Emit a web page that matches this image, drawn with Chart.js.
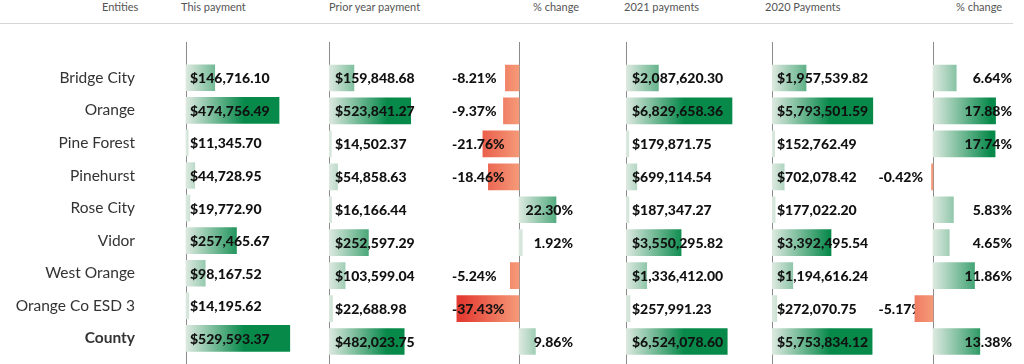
<!DOCTYPE html>
<html>
<head>
<meta charset="utf-8">
<script src="https://cdn.jsdelivr.net/npm/chart.js@4.4.1/dist/chart.umd.min.js"></script>
<style>
    body { margin: 0; background: #fff; width: 1024px; height: 364px; overflow: hidden; position: relative; font-family: Lato, sans-serif; }
    .head { position: absolute; top: 0px; font-size: 11px; color: #555; white-space: nowrap; }
    .rule { position: absolute; left: 0; top: 23px; width: 1013px; height: 1px; background: #d6d6d6; }
    canvas { position: absolute; top: 42px; }
</style>
</head>
<body>
<div class="head" style="left:102px">Entities</div>
<div class="head" style="left:181px">This payment</div>
<div class="head" style="left:329px">Prior year payment</div>
<div class="head" style="left:533px">% change</div>
<div class="head" style="left:624px">2021 payments</div>
<div class="head" style="left:765px">2020 Payments</div>
<div class="head" style="left:956px">% change</div>
<div class="rule"></div>

<canvas id="chartThis" width="329" height="322" style="left:0px"></canvas>
<canvas id="chartPrior" width="111" height="322" style="left:329px"></canvas>
<canvas id="chartPct" width="160" height="322" style="left:440px"></canvas>
<canvas id="chart2021" width="146" height="322" style="left:626px"></canvas>
<canvas id="chart2020" width="120" height="322" style="left:772px"></canvas>
<canvas id="chartPctYear" width="164" height="322" style="left:860px"></canvas>

<script>
const entities = ['Bridge City', 'Orange', 'Pine Forest', 'Pinehurst', 'Rose City', 'Vidor', 'West Orange', 'Orange Co ESD 3', 'County']
const thisPayment = [146716.10, 474756.49, 11345.70, 44728.95, 19772.90, 257465.67, 98167.52, 14195.62, 529593.37]
const priorYearPayment = [159848.68, 523841.27, 14502.37, 54858.63, 16166.44, 252597.29, 103599.04, 22688.98, 482023.75]
const pctChange = [-8.21, -9.37, -21.76, -18.46, 22.30, 1.92, -5.24, -37.43, 9.86]
const payments2021 = [2087620.30, 6829658.36, 179871.75, 699114.54, 187347.27, 3550295.82, 1336412.00, 257991.23, 6524078.60]
const payments2020 = [1957539.82, 5793501.59, 152762.49, 702078.42, 177022.20, 3392495.54, 1194616.24, 272070.75, 5753834.12]
const pctChangeYear = [6.64, 17.88, 17.74, -0.42, 5.83, 4.65, 11.86, -5.17, 13.38]

const money = v => '$' + v.toLocaleString('en-US', { minimumFractionDigits: 2, maximumFractionDigits: 2 })
const pct = v => v.toFixed(2) + '%'

function barColor(ctx) {
    const chart = ctx.chart
    if (!chart.chartArea) return '#07894a'
    const x0 = chart.scales.x.getPixelForValue(0)
    let g
    if (ctx.raw >= 0) {
        g = chart.ctx.createLinearGradient(x0, 0, x0 + 58, 0)
        g.addColorStop(0, '#dde9e0')
        g.addColorStop(1, '#07894a')
    } else {
        g = chart.ctx.createLinearGradient(x0, 0, x0 - 58, 0)
        g.addColorStop(0, '#f59a78')
        g.addColorStop(1, '#e43b32')
    }
    return g
}

// zero line, runs the full height of the canvas
const zeroLine = {
    id: 'zeroLine',
    beforeDatasetsDraw(chart) {
        const x = Math.round(chart.scales.x.getPixelForValue(0)) + 0.5
        const c = chart.ctx
        c.save()
        c.strokeStyle = '#8c8c8c'
        c.lineWidth = 1
        c.beginPath()
        c.moveTo(x, 0)
        c.lineTo(x, chart.height)
        c.stroke()
        c.restore()
    }
}

function labelPlugin(format, posAlign, posOffset, negAlign, negOffset, negBehind) {
    function draw(chart, behind) {
        const c = chart.ctx
        const x0 = chart.scales.x.getPixelForValue(0)
        const meta = chart.getDatasetMeta(0)
        c.save()
        c.font = '900 14px Lato'
        c.fillStyle = '#111'
        c.textBaseline = 'middle'
        chart.data.datasets[0].data.forEach((v, i) => {
            const neg = v < 0
            if ((neg && negBehind) !== behind) return
            const y = meta.data[i].y
            c.textAlign = neg ? negAlign : posAlign
            c.fillText(format(v), x0 + (neg ? negOffset : posOffset), y + 1)
        })
        c.restore()
    }
    return {
        id: 'valueLabels',
        beforeDatasetsDraw(chart) { draw(chart, true) },
        afterDatasetsDraw(chart) { draw(chart, false) }
    }
}

function columnChart(id, values, min, max, labels, showEntities) {
    const ctx = document.querySelector(id).getContext('2d')
    const yAxis = { display: false }
    if (showEntities) {
        yAxis.display = true
        yAxis.grid = { display: false }
        yAxis.border = { display: false }
        yAxis.afterFit = scale => { scale.width = 143 }
        yAxis.ticks = {
            padding: 0,
            color: '#333',
            font: c => ({ family: 'Lato', size: 15.5, weight: c.index === 8 ? 'bold' : 'normal' })
        }
    }
    return new Chart(ctx, {
        type: 'bar',
        data: {
            labels: entities,
            datasets: [{
                data: values,
                backgroundColor: barColor,
                barThickness: 26,
                borderWidth: 0
            }]
        },
        options: {
            indexAxis: 'y',
            responsive: false,
            animation: false,
            devicePixelRatio: 1,
            layout: { padding: { top: 19.5, bottom: 6, left: 0, right: 0 } },
            scales: {
                x: { display: false, min: min, max: max },
                y: yAxis
            },
            plugins: { legend: { display: false }, tooltip: { enabled: false } }
        },
        plugins: [zeroLine, labels]
    })
}

function renderCharts() {
    columnChart('#chartThis', thisPayment, -43 / 0.000196, 143 / 0.000196, labelPlugin(money, 'left', 4, 'left', 4, false), true)
    columnChart('#chartPrior', priorYearPayment, 0, 111 / 0.000156, labelPlugin(money, 'left', 6, 'left', 6, false), false)
    columnChart('#chartPct', pctChange, -79 / 1.66, 81 / 1.66, labelPlugin(pct, 'right', 54, 'left', -67, false), false)
    columnChart('#chart2021', payments2021, 0, 146 / 0.00001552, labelPlugin(money, 'left', 6, 'left', 6, false), false)
    columnChart('#chart2020', payments2020, 0, 120 / 0.0000174, labelPlugin(money, 'left', 5, 'left', 5, false), false)
    columnChart('#chartPctYear', pctChangeYear, -73 / 3.5, 91 / 3.5, labelPlugin(pct, 'right', 79, 'right', -10, true), false)
}
renderCharts()
</script>
</body>
</html>
